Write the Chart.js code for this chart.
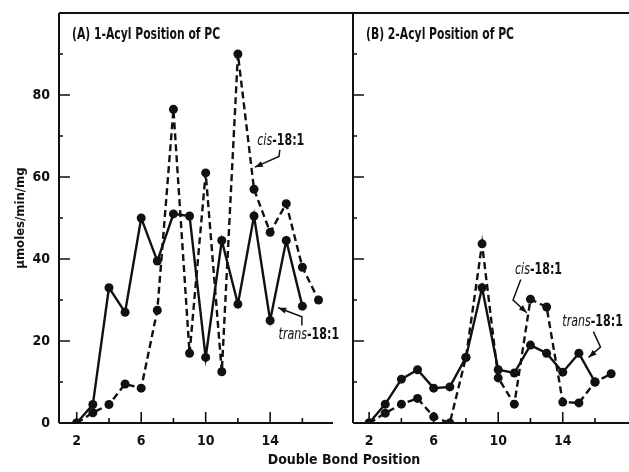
<!DOCTYPE html>
<html>
<head>
<meta charset="utf-8">
<script src="https://cdn.jsdelivr.net/npm/chart.js@4.4.1/dist/chart.umd.min.js"></script>
<style>
  html, body { margin: 0; padding: 0; background: #fff; }
  #wrap { position: relative; width: 629px; height: 472px; overflow: hidden; }
  canvas { position: absolute; top: 0; }
  #xtitle { position: absolute; left: 0; width: 688px; top: 451px; text-align: center;
    font: bold 14px 'Liberation Sans Narrow', 'DejaVu Sans Condensed', sans-serif; color: #111; }
</style>
</head>
<body>
<div id="wrap">
  <canvas id="chartA" style="left:0px"></canvas>
  <canvas id="chartB" style="left:340px"></canvas>
  <div id="xtitle">Double Bond Position</div>
</div>
<script>
// double bond positions (x)
const positions = [2, 3, 4, 5, 6, 7, 8, 9, 10, 11, 12, 13, 14, 15, 16, 17];
// (A) 1-acyl position, µmoles/min/mg
const transA = [0, 4.5, 33, 27, 50, 39.5, 51, 50.5, 16, 44.5, 29, 50.5, 25, 44.5, 28.5];
const cisA = [0, 2.5, 4.5, 9.5, 8.5, 27.5, 76.5, 17, 61, 12.5, 90, 57, 46.5, 53.5, 38, 30];
// (B) 2-acyl position
const transB = [0, 4.6, 10.7, 13, 8.5, 8.8, 16, 33, 13, 12.2, 19, 17, 12.4, 17, 10];
const cisB = [0, 2.4, 4.6, 6, 1.5, 0, 16, 43.7, 11, 4.6, 30.2, 28.3, 5.1, 4.9, 10, 12];

const xTickMarks = [2, 4, 6, 8, 10, 12, 14, 16];
const xTickLabels = [2, 6, 10, 14];
const yTickLabels = [0, 20, 40, 60, 80];
const yMinorTicks = [10, 30, 50, 70, 90];

const FONT = "'Liberation Sans Narrow', 'DejaVu Sans Condensed', sans-serif";
const INK = '#111';

function pts(vals) {
  return vals.map((v, i) => ({ x: positions[i], y: v }));
}

function series(vals, dashed) {
  return {
    data: pts(vals),
    borderColor: INK,
    backgroundColor: INK,
    borderWidth: 2.4,
    borderDash: dashed ? [7, 4] : [],
    pointRadius: 4.5,
    pointBorderWidth: 0,
    pointBackgroundColor: INK,
    tension: 0
  };
}

// axes lines and inward ticks
const framePlugin = {
  id: 'frame',
  afterDraw(chart) {
    const { ctx, chartArea: a, scales: { x, y } } = chart;
    ctx.save();
    ctx.strokeStyle = INK;
    ctx.lineWidth = 2;
    ctx.beginPath();
    ctx.moveTo(a.left, a.bottom);
    ctx.lineTo(a.left, a.top);
    ctx.moveTo(chart.canvas.id === 'chartA' ? a.left : 0, a.top);
    ctx.lineTo(chart.width, a.top);
    ctx.moveTo(a.left, a.bottom);
    ctx.lineTo(a.right, a.bottom);
    ctx.stroke();
    ctx.lineWidth = 1.6;
    ctx.beginPath();
    xTickMarks.forEach(v => {
      const px = x.getPixelForValue(v);
      const len = xTickLabels.includes(v) ? 11 : 5;
      ctx.moveTo(px, a.bottom);
      ctx.lineTo(px, a.bottom - len);
    });
    yTickLabels.slice(1).forEach(v => {
      const py = y.getPixelForValue(v);
      ctx.moveTo(a.left, py);
      ctx.lineTo(a.left + 11, py);
    });
    yMinorTicks.forEach(v => {
      const py = y.getPixelForValue(v);
      ctx.moveTo(a.left, py);
      ctx.lineTo(a.left + 4, py);
    });
    ctx.stroke();
    ctx.restore();
  }
};

// condensed-looking text: draw with a horizontal squeeze
function squeezed(ctx, text, x, y, font, sx) {
  ctx.save();
  ctx.font = font;
  ctx.translate(x, y);
  ctx.scale(sx, 1);
  ctx.fillText(text, 0, 0);
  ctx.restore();
  return ctx.measureText(text).width * sx;
}

function notesPlugin(title, notes) {
  return {
    id: 'notes',
    afterDraw(chart) {
      const { ctx, chartArea: a, scales: { x, y } } = chart;
      ctx.save();
      ctx.fillStyle = INK;
      ctx.strokeStyle = INK;
      ctx.textBaseline = 'middle';
      squeezed(ctx, title, a.left + 13, a.top + 22, 'bold 15px ' + FONT, 0.8);
      notes.forEach(n => {
        const tx = x.getPixelForValue(n.at[0]);
        const ty = y.getPixelForValue(n.at[1]);
        const fi = 'italic 15px ' + FONT, fb = 'bold 15px ' + FONT;
        ctx.font = fi;
        const w1 = ctx.measureText(n.it).width * 0.82;
        ctx.font = fb;
        const w2 = ctx.measureText(n.rest).width * 0.82;
        const x0 = tx - (w1 + w2) / 2;
        squeezed(ctx, n.it, x0, ty, fi, 0.82);
        squeezed(ctx, n.rest, x0 + w1, ty, fb, 0.82);
        const p = n.arrow.map(q => [x.getPixelForValue(q[0]), y.getPixelForValue(q[1])]);
        ctx.lineWidth = 1.5;
        ctx.beginPath();
        ctx.moveTo(p[0][0], p[0][1]);
        for (let i = 1; i < p.length; i++) ctx.lineTo(p[i][0], p[i][1]);
        ctx.stroke();
        const e = p[p.length - 1], s = p[p.length - 2];
        const ang = Math.atan2(e[1] - s[1], e[0] - s[0]);
        ctx.beginPath();
        ctx.moveTo(e[0], e[1]);
        ctx.lineTo(e[0] - 8 * Math.cos(ang) + 3 * Math.sin(ang), e[1] - 8 * Math.sin(ang) - 3 * Math.cos(ang));
        ctx.lineTo(e[0] - 8 * Math.cos(ang) - 3 * Math.sin(ang), e[1] - 8 * Math.sin(ang) + 3 * Math.cos(ang));
        ctx.closePath();
        ctx.fill();
      });
      ctx.restore();
    }
  };
}

function makeChart(id, w, padRight, datasets, xMin, xMax, yWidth, showY, title, notes) {
  const cv = document.getElementById(id);
  cv.width = w; cv.height = 472;
  cv.style.width = w + 'px'; cv.style.height = '472px';
  return new Chart(cv, {
    type: 'line',
    data: { datasets },
    options: {
      responsive: false,
      animation: false,
      layout: { padding: { top: 13, right: padRight, left: 0, bottom: 0 } },
      plugins: { legend: { display: false }, tooltip: { enabled: false } },
      scales: {
        x: {
          type: 'linear', min: xMin, max: xMax,
          grid: { display: false, drawTicks: false },
          border: { display: false },
          afterBuildTicks: s => { s.ticks = xTickMarks.map(v => ({ value: v })); },
          afterFit: s => { s.height = 49; s.paddingLeft = 0; s.paddingRight = 0; },
          ticks: {
            autoSkip: false, maxRotation: 0, padding: 10, color: INK,
            font: { family: FONT, size: 14, weight: 'bold' },
            callback: v => xTickLabels.includes(v) ? String(v) : ''
          }
        },
        y: {
          min: 0, max: 100,
          grid: { display: false, drawTicks: false },
          border: { display: false },
          afterBuildTicks: s => { s.ticks = yTickLabels.map(v => ({ value: v })); },
          afterFit: s => { s.width = yWidth; s.paddingTop = 0; s.paddingBottom = 0; },
          ticks: {
            display: showY, padding: 9, color: INK,
            font: { family: FONT, size: 14, weight: 'bold' }
          },
          title: {
            display: showY, text: 'μmoles/min/mg', color: INK,
            padding: { top: 13, bottom: 0 },
            font: { family: FONT, size: 13, weight: 'bold' }
          }
        }
      }
    },
    plugins: [framePlugin, notesPlugin(title, notes)]
  });
}

makeChart('chartA', 353, 20, [series(transA, false), series(cisA, true)], 0.9, 17.9, 59, true,
  '(A) 1-Acyl Position of PC', [
    { it: 'cis', rest: '-18:1', at: [14.66, 68.8], arrow: [[14.6, 66.6], [14.55, 65.0], [13.05, 62.4]] },
    { it: 'trans', rest: '-18:1', at: [16.4, 21.5], arrow: [[15.97, 23.8], [15.97, 25.9], [14.5, 28.1]] }
  ]);

// canvas B runs a little past the page edge, like the cropped original
makeChart('chartB', 295, 0, [series(transB, false), series(cisB, true)], 1, 18.2, 13, false,
  '(B) 2-Acyl Position of PC', [
    { it: 'cis', rest: '-18:1', at: [12.5, 37.3], arrow: [[11.4, 35.0], [10.92, 30.0], [11.77, 26.9]] },
    { it: 'trans', rest: '-18:1', at: [15.85, 24.6], arrow: [[15.9, 22.3], [16.34, 18.5], [15.6, 16.0]] }
  ]);
</script>
</body>
</html>
